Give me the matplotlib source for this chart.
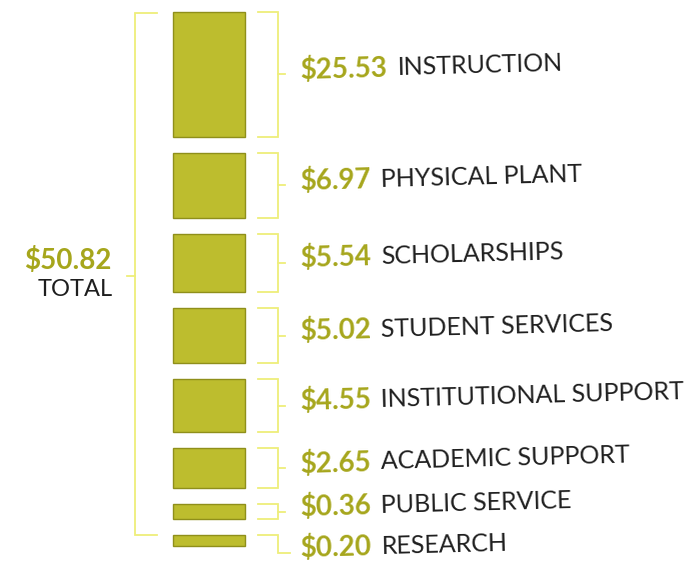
import numpy as np
import matplotlib
matplotlib.use("Agg")
import matplotlib.pyplot as plt
from matplotlib.patches import Rectangle

# ---- data ----
categories = ["INSTRUCTION", "PHYSICAL PLANT", "SCHOLARSHIPS", "STUDENT SERVICES",
              "INSTITUTIONAL SUPPORT", "ACADEMIC SUPPORT", "PUBLIC SERVICE", "RESEARCH"]
values = [25.53, 6.97, 5.54, 5.02, 4.55, 2.65, 0.36, 0.20]
total_value = 50.82
total_label = "TOTAL"

# ---- style ----
BLOCK = "#bdbd2e"
EDGE = "#8f8f1a"
BRACKET = "#eeee7a"
VALUE_C = "#a6a61c"
LABEL_C = "#1e1e1e"
FONT = "Lato"
W, H = 698, 571

fig = plt.figure(figsize=(W / 100, H / 100), dpi=100)
ax = fig.add_axes([0, 0, 1, 1])
ax.set_xlim(0, W)
ax.set_ylim(H, 0)
ax.axis("off")

# layout (pixel-like data coordinates)
top, bottom, gap = 12, 546, 16
x0, bw = 173, 72
sizes = np.sqrt(np.array(values))
scale = (bottom - top - gap * (len(values) - 1)) / sizes.sum()
heights = sizes * scale
tops = top + np.concatenate([[0], np.cumsum(heights + gap)[:-1]])

fig.canvas.draw()
renderer = fig.canvas.get_renderer()
rot = 1.5
ang = np.deg2rad(rot)

for i, (cat, v, t, h) in enumerate(zip(categories, values, tops, heights)):
    ax.add_patch(Rectangle((x0, t), bw, max(h, 3), facecolor=BLOCK, edgecolor=EDGE, lw=1.0))
    bx1, bx2 = 258, 278
    if i < len(values) - 1:
        ax.plot([bx1, bx2, bx2, bx1], [t, t, t + h, t + h], color=BRACKET, lw=1.3,
                solid_joinstyle="miter")
        ym = t + h / 2
        ax.plot([bx2, bx2 + 7], [ym, ym], color=BRACKET, lw=1.3)
        ty = ym - 4
    else:
        ym = t + 18
        ax.plot([bx1, bx2, bx2, bx2 + 12], [t, t, ym, ym], color=BRACKET, lw=1.3,
                solid_joinstyle="miter")
        ty = ym - 4
    tx = 300
    vt = ax.text(tx, ty, f"${v:.2f}", color=VALUE_C, fontsize=20, fontweight="bold",
                 family=FONT, ha="left", va="center")
    wpx = vt.get_window_extent(renderer).width
    vt.set_rotation(rot)
    vt.set_rotation_mode("anchor")
    d = wpx + 10
    ax.text(tx + d * np.cos(ang), ty - d * np.sin(ang), cat, color=LABEL_C, fontsize=18,
            family=FONT, ha="left", va="center", rotation=rot, rotation_mode="anchor")

# total bracket
lx = 135
ax.plot([157, lx, lx, 157], [top + 1, top + 1, tops[-1], tops[-1]], color=BRACKET, lw=1.3,
        solid_joinstyle="miter")
ymid = 276
ax.plot([lx - 8, lx], [ymid, ymid], color=BRACKET, lw=1.3)
ax.text(111, 261, f"${total_value:.2f}", color=VALUE_C, fontsize=20, fontweight="bold",
        family=FONT, ha="right", va="center")
ax.text(113, 289, total_label, color=LABEL_C, fontsize=17, family=FONT,
        ha="right", va="center")

fig.savefig("out.png", dpi=100, facecolor="white")
